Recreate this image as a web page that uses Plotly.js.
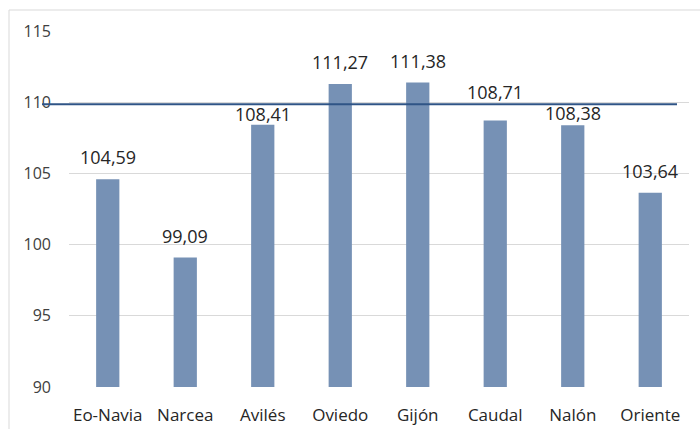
<!DOCTYPE html>
<html>
<head>
<meta charset="utf-8">
<script src="https://cdn.plot.ly/plotly-3.0.1.min.js"></script>
<style>html,body{margin:0;padding:0;background:#fff;}#chart{width:700px;height:429px;}</style>
</head>
<body>
<div id="chart"></div>
<script>
const categories = ["Eo-Navia", "Narcea", "Avilés", "Oviedo", "Gijón", "Caudal", "Nalón", "Oriente"];
const values = [104.59, 99.09, 108.41, 111.27, 111.38, 108.71, 108.38, 103.64];
const referenceValue = 109.85;
const yTicks = [90, 95, 100, 105, 110, 115];

const W = 700, H = 429, L = 69, R = 11, T = 31, B = 42;
const pw = W - L - R, ph = H - T - B;
const px = x => (x - L) / pw;
const py = y => (H - B - y) / ph;

// per-label vertical pixel shift (layout placement, as in the original)
const labelShift = [8, 8, -3, 8, 8, 15, -2, 8];

const fmt = v => v.toFixed(2).replace('.', ',');

const trace = {
  type: 'bar',
  x: categories,
  y: values,
  marker: {color: '#7691b5'},
  hoverinfo: 'none'
};

const labels = categories.map((c, i) => ({
  x: c, y: values[i], xref: 'x', yref: 'y',
  text: fmt(values[i]), showarrow: false,
  yanchor: 'bottom', yshift: labelShift[i],
  font: {family: 'Open Sans, sans-serif', size: 18, color: '#262626'}
}));

const layout = {
  width: W, height: H,
  margin: {l: L, r: R, t: T, b: B, pad: 0},
  paper_bgcolor: '#ffffff',
  plot_bgcolor: '#ffffff',
  bargap: 0.7,
  showlegend: false,
  xaxis: {
    type: 'category',
    showgrid: false,
    showline: false,
    zeroline: false,
    ticks: '',
    tickfont: {family: 'Open Sans, sans-serif', size: 17, color: '#262626'},
    ticklabelstandoff: 16
  },
  yaxis: {
    range: [90, 115],
    tickvals: yTicks,
    ticktext: yTicks.map(String),
    showgrid: true,
    gridcolor: '#d9d9d9',
    gridwidth: 1,
    zeroline: false,
    showline: false,
    ticks: '',
    ticklabelstandoff: 17,
    tickfont: {family: 'Open Sans, sans-serif', size: 16, color: '#404040'}
  },
  annotations: labels,
  shapes: [
    {type: 'rect', xref: 'paper', yref: 'paper', x0: px(9), x1: px(720), y0: py(10), y1: py(460),
     line: {color: '#d9d9d9', width: 1}, fillcolor: 'rgba(0,0,0,0)', layer: 'below'},
    {type: 'line', xref: 'paper', yref: 'y', x0: px(42), x1: px(677), y0: referenceValue, y1: referenceValue,
     line: {color: '#2f5486', width: 2}, layer: 'above'}
  ]
};

Plotly.newPlot('chart', [trace], layout, {displayModeBar: false, staticPlot: true});
</script>
</body>
</html>
